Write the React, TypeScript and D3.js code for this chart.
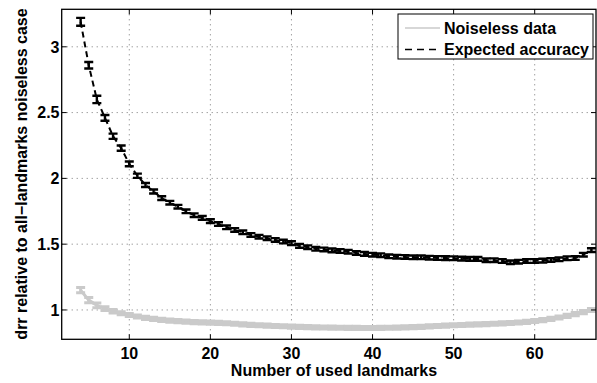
import React from "react";
import * as d3 from "d3";

const landmarks = [4,5,6,7,8,9,10,11,12,13,14,15,16,17,18,19,20,21,22,23,24,25,26,27,28,29,30,31,32,33,34,35,36,37,38,39,40,41,42,43,44,45,46,47,48,49,50,51,52,53,54,55,56,57,58,59,60,61,62,63,64,65,66,67];

const expectedAcc = [3.19,2.86,2.60,2.46,2.32,2.23,2.11,2.02,1.95,1.90,1.85,1.815,1.785,1.75,1.72,1.70,1.675,1.653,1.628,1.608,1.59,1.57,1.557,1.545,1.532,1.52,1.508,1.487,1.477,1.465,1.46,1.453,1.448,1.443,1.433,1.426,1.42,1.416,1.408,1.405,1.403,1.40,1.40,1.397,1.395,1.394,1.393,1.39,1.388,1.388,1.378,1.378,1.372,1.362,1.367,1.372,1.372,1.375,1.38,1.385,1.393,1.395,1.42,1.455];

const expectedErr = [0.03,0.025,0.028,0.022,0.02,0.02,0.018,0.016,0.015,0.015,0.014,0.014,0.014,0.014,0.014,0.014,0.014,0.014,0.014,0.014,0.014,0.014,0.014,0.014,0.014,0.014,0.014,0.014,0.014,0.014,0.014,0.014,0.014,0.014,0.014,0.014,0.014,0.014,0.014,0.014,0.014,0.014,0.014,0.014,0.014,0.014,0.014,0.014,0.014,0.014,0.014,0.014,0.014,0.014,0.014,0.014,0.014,0.014,0.014,0.014,0.014,0.014,0.014,0.014];

const noiseless = [1.15,1.075,1.035,1.01,0.99,0.975,0.962,0.95,0.94,0.932,0.925,0.919,0.915,0.911,0.908,0.906,0.904,0.902,0.899,0.895,0.89,0.887,0.884,0.881,0.878,0.876,0.873,0.871,0.869,0.868,0.867,0.866,0.865,0.864,0.864,0.863,0.863,0.864,0.865,0.866,0.868,0.87,0.872,0.875,0.878,0.881,0.884,0.886,0.888,0.89,0.892,0.895,0.898,0.901,0.905,0.91,0.916,0.923,0.932,0.943,0.955,0.968,0.983,1.0];

const noiselessErr = [0.02,0.02,0.018,0.015,0.013,0.012,0.012,0.012,0.012,0.012,0.012,0.012,0.012,0.012,0.012,0.012,0.012,0.012,0.012,0.012,0.012,0.012,0.012,0.012,0.012,0.012,0.012,0.012,0.012,0.012,0.012,0.012,0.012,0.012,0.012,0.012,0.012,0.012,0.012,0.012,0.012,0.012,0.012,0.012,0.012,0.012,0.012,0.012,0.012,0.012,0.012,0.012,0.012,0.012,0.012,0.012,0.012,0.012,0.012,0.012,0.012,0.012,0.012,0.012];

const xTicks = [10, 20, 30, 40, 50, 60];
const yTicks = [1, 1.5, 2, 2.5, 3];
const yTickLabels = ["1", "1.5", "2", "2.5", "3"];
const seriesNames = ["Noiseless data", "Expected accuracy"];

const W = 597, H = 383;
const L = 61.7, R = 596, T = 9.3, B = 339.3;
const FONT = "'Liberation Sans', Arial, Helvetica, sans-serif";

export default function App() {
  const x = d3.scaleLinear().domain([1.665, 67.56]).range([L, R]);
  const y = d3.scaleLinear().domain([0.777, 3.285]).range([B, T]);
  const line = d3.line<number>().x((_, i) => x(landmarks[i])).y((d) => y(d));
  const cap = 4.5;

  const errBars = (vals: number[], errs: number[], color: string, sw: number) =>
    vals.map((v, i) => {
      const cx = x(landmarks[i]);
      const y0 = y(v - errs[i]);
      const y1 = y(v + errs[i]);
      return (
        <g key={i} stroke={color} strokeWidth={sw}>
          <line x1={cx} x2={cx} y1={y0} y2={y1} />
          <line x1={cx - cap} x2={cx + cap} y1={y0} y2={y0} />
          <line x1={cx - cap} x2={cx + cap} y1={y1} y2={y1} />
        </g>
      );
    });

  return (
    <svg width={W} height={H} style={{ position: "absolute", left: 0, top: 0, background: "#fff" }}>
      <rect x={0} y={0} width={W} height={H} fill="#fff" />
      <defs>
        <clipPath id="plotclip">
          <rect x={L} y={T} width={R - L} height={B - T} />
        </clipPath>
      </defs>
      <g stroke="#777" strokeWidth={1} strokeDasharray="1,4">
        {xTicks.map((t) => (
          <line key={"gx" + t} x1={x(t)} x2={x(t)} y1={T} y2={B} />
        ))}
        {yTicks.map((t) => (
          <line key={"gy" + t} x1={L} x2={R} y1={y(t)} y2={y(t)} />
        ))}
      </g>
      <g clipPath="url(#plotclip)">
        <path d={line(noiseless) || ""} fill="none" stroke="#cacaca" strokeWidth={3} />
        {errBars(noiseless, noiselessErr, "#cacaca", 3)}
        <path d={line(expectedAcc) || ""} fill="none" stroke="#000" strokeWidth={2} strokeDasharray="6,4" />
        {errBars(expectedAcc, expectedErr, "#000", 2.4)}
      </g>
      <rect x={L} y={T} width={R - L} height={B - T} fill="none" stroke="#000" strokeWidth={1.3} />
      <g stroke="#000" strokeWidth={1}>
        {xTicks.map((t) => (
          <g key={"tx" + t}>
            <line x1={x(t)} x2={x(t)} y1={B} y2={B - 5} />
            <line x1={x(t)} x2={x(t)} y1={T} y2={T + 5} />
          </g>
        ))}
        {yTicks.map((t) => (
          <g key={"ty" + t}>
            <line x1={L} x2={L + 5} y1={y(t)} y2={y(t)} />
            <line x1={R} x2={R - 5} y1={y(t)} y2={y(t)} />
          </g>
        ))}
      </g>
      <g fontFamily={FONT} fontWeight="bold" fontSize={16} fill="#000">
        {xTicks.map((t) => (
          <text key={"lx" + t} x={x(t)} y={358.5} textAnchor="middle">{t}</text>
        ))}
        {yTicks.map((t, i) => (
          <text key={"ly" + t} x={59.5} y={y(t)} dy="0.36em" textAnchor="end">{yTickLabels[i]}</text>
        ))}
      </g>
      <text x={334} y={376} textAnchor="middle" fontFamily={FONT} fontWeight="bold" fontSize={16}>
        Number of used landmarks
      </text>
      <text transform="translate(27,174) rotate(-90)" textAnchor="middle" fontFamily={FONT} fontWeight="bold" fontSize={16}>
        drr relative to all−landmarks noiseless case
      </text>
      <g>
        <rect x={398} y={14} width={195} height={45} fill="#fff" stroke="#000" strokeWidth={1} />
        <line x1={405} x2={440} y1={28} y2={28} stroke="#cacaca" strokeWidth={1.5} />
        <line x1={405} x2={440} y1={49.5} y2={49.5} stroke="#000" strokeWidth={1.5} strokeDasharray="7,5" />
        <text x={444} y={28} dy="0.36em" fontFamily={FONT} fontWeight="bold" fontSize={16}>{seriesNames[0]}</text>
        <text x={444} y={49.5} dy="0.36em" fontFamily={FONT} fontWeight="bold" fontSize={16}>{seriesNames[1]}</text>
      </g>
    </svg>
  );
}
